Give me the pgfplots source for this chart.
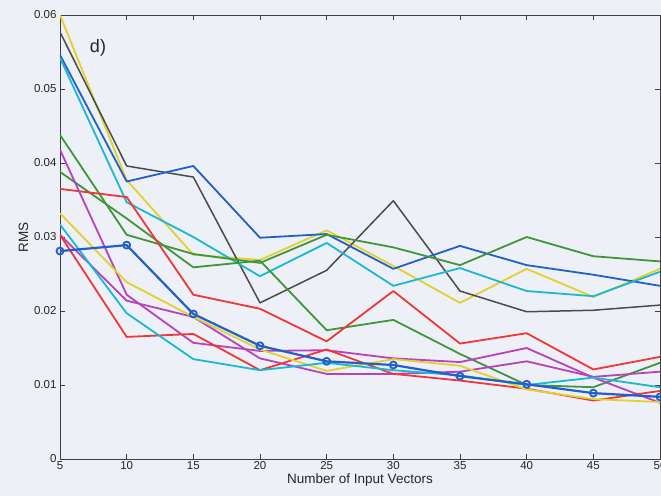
\documentclass[border=0pt]{standalone}
\usepackage{fontspec}
\setmainfont{Liberation Sans}
\usepackage{pgfplots}
\usepackage{pgfplotstable}
\pgfplotsset{compat=1.18}
\definecolor{bg}{RGB}{237,240,246}
\definecolor{mblue}{RGB}{35,95,200}
\definecolor{mgreen}{RGB}{65,150,60}
\definecolor{mred}{RGB}{240,55,55}
\definecolor{mcyan}{RGB}{25,185,210}
\definecolor{mmag}{RGB}{185,65,190}
\definecolor{myel}{RGB}{225,210,45}
\definecolor{mgray}{RGB}{75,75,75}
\pgfplotstableread{
x  ya     gr     ba     ca     ga     gb     ra     ma     mb     rb     yb     cb     bm
5  0.0600 0.0577 0.0546 0.0542 0.0438 0.0388 0.0365 0.0418 0.0303 0.0303 0.0332 0.0317 0.0281
10 0.0377 0.0396 0.0375 0.0347 0.0303 0.0325 0.0354 0.0222 0.0214 0.0165 0.0239 0.0197 0.0289
15 0.0276 0.0381 0.0396 0.0300 0.0277 0.0259 0.0222 0.0157 0.0192 0.0169 0.0192 0.0135 0.0196
20 0.0269 0.0211 0.0299 0.0247 0.0265 0.0268 0.0203 0.0146 0.0136 0.0120 0.0148 0.0120 0.0153
25 0.0309 0.0255 0.0304 0.0292 0.0303 0.0174 0.0159 0.0147 0.0115 0.0148 0.0119 0.0130 0.0132
30 0.0261 0.0349 0.0257 0.0234 0.0286 0.0188 0.0227 0.0136 0.0115 0.0115 0.0135 0.0120 0.0127
35 0.0211 0.0227 0.0288 0.0258 0.0262 0.0142 0.0156 0.0131 0.0118 0.0106 0.0126 0.0113 0.0112
40 0.0257 0.0199 0.0262 0.0227 0.0300 0.0100 0.0170 0.0150 0.0132 0.0095 0.0094 0.0100 0.0101
45 0.0219 0.0201 0.0249 0.0220 0.0274 0.0097 0.0121 0.0110 0.0111 0.0079 0.0081 0.0110 0.0089
50 0.0257 0.0208 0.0234 0.0253 0.0267 0.0130 0.0138 0.0076 0.0118 0.0092 0.0077 0.0097 0.0084
}\data
\begin{document}
\begin{tikzpicture}
\path[fill=bg, use as bounding box] (-60pt,-37pt) rectangle (601pt,459pt);
\begin{axis}[
  name=ax, at={(0,0)}, anchor=south west,
  scale only axis, width=600pt, height=444pt,
  xmin=5, xmax=50, ymin=0, ymax=0.06,
  xtick={5,10,...,50},
  ytick={0,0.01,0.02,0.03,0.04,0.05,0.06},
  yticklabels={0,0.01,0.02,0.03,0.04,0.05,0.06},
  scaled y ticks=false, scaled x ticks=false,
  tick align=inside, major tick length=5pt,
  axis background/.style={fill=bg},
  axis line style={draw=black!75, line width=0.8pt},
  tick style={draw=black!75, line width=0.8pt},
  /pgf/number format/assume math mode=true,
  ticklabel style={font=\fontsize{11.5}{13}\selectfont, text=black!85},
  xticklabel style={yshift=1pt},
  xlabel={Number of Input Vectors},
  ylabel={RMS},
  label style={font=\fontsize{13.5}{15}\selectfont, text=black!85},
  xlabel style={yshift=3pt},
  ylabel style={yshift=-1pt},
  every axis plot/.append style={line width=1.8pt, line join=round},
  clip=true,
]
\addplot[myel, no marks] table[x=x, y=ya] {\data};
\addplot[mgray, no marks, line width=1.5pt] table[x=x, y=gr] {\data};
\addplot[mblue, no marks] table[x=x, y=ba] {\data};
\addplot[mcyan, no marks] table[x=x, y=ca] {\data};
\addplot[mgreen, no marks] table[x=x, y=ga] {\data};
\addplot[mgreen, no marks] table[x=x, y=gb] {\data};
\addplot[mred, no marks] table[x=x, y=ra] {\data};
\addplot[mmag, no marks] table[x=x, y=ma] {\data};
\addplot[mmag, no marks] table[x=x, y=mb] {\data};
\addplot[mred, no marks] table[x=x, y=rb] {\data};
\addplot[myel, no marks] table[x=x, y=yb] {\data};
\addplot[mcyan, no marks] table[x=x, y=cb] {\data};
\addplot[mblue, line width=2.2pt, mark=o, mark size=3.5pt, mark options={line width=1.8pt}] table[x=x, y=bm] {\data};
\node[font=\fontsize{18}{20}\selectfont, text=black!85] at (axis cs:7.85,0.0555) {d)};
\end{axis}
\end{tikzpicture}
\end{document}
